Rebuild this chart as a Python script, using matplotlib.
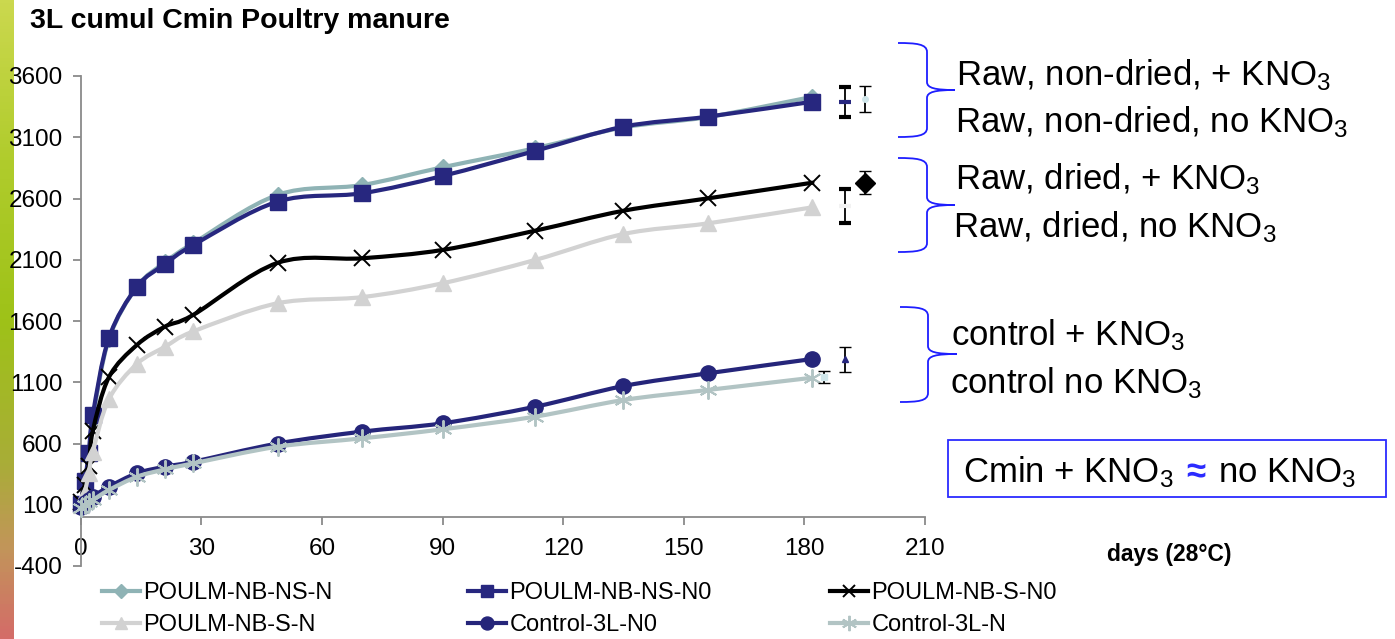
import numpy as np
import matplotlib
matplotlib.use("Agg")
import matplotlib.pyplot as plt
from matplotlib.path import Path
from matplotlib.patches import PathPatch, Rectangle
from matplotlib.lines import Line2D
from matplotlib.colors import LinearSegmentedColormap
from matplotlib import font_manager

plt.rcParams['font.family'] = ['Liberation Sans', 'DejaVu Sans']
plt.rcParams['mathtext.fontset'] = 'custom'
plt.rcParams['mathtext.rm'] = 'Liberation Sans'
plt.rcParams['mathtext.it'] = 'Liberation Sans:italic'
plt.rcParams['mathtext.bf'] = 'Liberation Sans:bold'
plt.rcParams['axes.unicode_minus'] = False

# ---- data ----
days = [0, 1, 2, 3, 7, 14, 21, 28, 49, 70, 90, 113, 135, 156, 182]

poulm_ns_n = [100, 280, 500, 800, 1450, 1880, 2080, 2235, 2630, 2710, 2855, 3010, 3180, 3265, 3430]
poulm_ns_n0 = [110, 290, 520, 830, 1460, 1880, 2065, 2220, 2575, 2643, 2784, 2988, 3186, 3268, 3390]
poulm_s_n0 = [120, 260, 420, 700, 1140, 1405, 1555, 1650, 2075, 2112, 2180, 2337, 2500, 2601, 2729]
poulm_s_n = [100, 200, 357, 530, 960, 1250, 1390, 1515, 1745, 1795, 1908, 2098, 2310, 2397, 2528]
control_n0 = [80, 115, 140, 166, 247, 357, 411, 451, 600, 697, 765, 900, 1069, 1173, 1290]
control_n = [71, 100, 120, 139, 220, 329, 389, 438, 574, 642, 716, 819, 955, 1037, 1137]

series_names = ['POULM-NB-NS-N', 'POULM-NB-NS-N0', 'POULM-NB-S-N0',
                'POULM-NB-S-N', 'Control-3L-N0', 'Control-3L-N']

# mean +/- error at day 182 (drawn a bit to the right of the curves)
err_days = [190, 195, 195, 190, 190, 185]
err_mean = [3390, 3412, 2729, 2539, 1287, 1145]
err_half = [122, 108, 95, 136, 103, 50]

y_ticks = [-400, 100, 600, 1100, 1600, 2100, 2600, 3100, 3600]
x_ticks = [0, 30, 60, 90, 120, 150, 180, 210]

# ---- styles ----
W, H = 1395, 639
navy = '#27277f'
styles = [
    dict(color='#8fb3b5', marker='D', ms=8, mew=1),
    dict(color=navy, marker='s', ms=11, mew=1),
    dict(color='black', marker='x', ms=11, mew=1.4),
    dict(color='#d2d2d2', marker='^', ms=11, mew=1),
    dict(color='#25257a', marker='o', ms=11, mew=1),
    dict(color='#b2c4c4', marker=(6, 2, 0), ms=13, mew=1.4),
]


def smooth_path(x, y):
    # Excel-like smoothed line: cubic Bezier through the points (Catmull-Rom handles)
    pts = np.column_stack([x, y]).astype(float)
    verts = [pts[0]]
    codes = [Path.MOVETO]
    n = len(pts)
    for i in range(n - 1):
        p0 = pts[i - 1] if i > 0 else pts[i]
        p1 = pts[i]
        p2 = pts[i + 1]
        p3 = pts[i + 2] if i + 2 < n else pts[i + 1]
        c1 = p1 + (p2 - p0) / 6.0
        c2 = p2 - (p3 - p1) / 6.0
        verts += [c1, c2, p2]
        codes += [Path.CURVE4] * 3
    return Path(verts, codes)


fig = plt.figure(figsize=(W / 100, H / 100), dpi=100)

# coloured strip on the left edge
strip = fig.add_axes([0, 0, 13 / W, 1])
cmap = LinearSegmentedColormap.from_list('strip', [
    (0.0, '#cbd84e'), (0.25, '#b0cc2c'), (0.5, '#9ec218'),
    (0.72, '#a8ae36'), (0.86, '#c2955a'), (1.0, '#d46c68')])
strip.imshow(np.linspace(0, 1, 200).reshape(-1, 1), aspect='auto', cmap=cmap)
strip.axis('off')

ax = fig.add_axes([80.7 / W, (H - 566) / H, (925 - 80.7) / W, 490 / H])
all_series = [poulm_ns_n, poulm_ns_n0, poulm_s_n0, poulm_s_n, control_n0, control_n]
handles = []
for i, (vals, name, st) in enumerate(zip(all_series, series_names, styles)):
    patch = PathPatch(smooth_path(days, vals), fill=False, edgecolor=st['color'],
                      lw=3.0, zorder=2 + 2 * i, capstyle='round', joinstyle='round')
    patch.set_clip_on(False)
    ax.add_patch(patch)
    ax.plot(days, vals, ls='none', marker=st['marker'], ms=st['ms'], mew=st['mew'],
            color=st['color'], mec=st['color'], zorder=3 + 2 * i, clip_on=False)
    handles.append(Line2D([], [], color=st['color'], lw=3.0, marker=st['marker'],
                          ms=st['ms'] * 0.85, mew=st['mew'], mec=st['color']))

err_fmt = [
    dict(marker='_', color=navy, ms=8, mew=3),
    dict(marker='o', color='#cfe6ea', ms=4, mew=1),
    dict(marker='D', color='black', ms=10, mew=1),
    dict(marker='_', color='#f2f2f2', ms=8, mew=3),
    dict(marker='^', color=navy, ms=4, mew=1),
    dict(marker='s', color='#cfe6ea', ms=4, mew=1),
]
for d, m, e, f in zip(err_days, err_mean, err_half, err_fmt):
    ax.errorbar([d], [m], yerr=[e], fmt=f['marker'], color=f['color'], ms=f['ms'],
                mew=f['mew'], ecolor='black', elinewidth=1.3, capsize=4, capthick=1.3,
                zorder=20, clip_on=False)

ax.set_xlim(0, 210)
ax.set_ylim(-400, 3600)
ax.set_xticks(x_ticks)
ax.set_yticks(y_ticks)
for s in ['top', 'right']:
    ax.spines[s].set_visible(False)
ax.spines['bottom'].set_position(('data', 0))
for s in ['left', 'bottom']:
    ax.spines[s].set_color('#8a8a8a')
    ax.spines[s].set_linewidth(1.3)
ax.tick_params(axis='y', direction='out', length=6, width=1.3, color='#8a8a8a',
               labelsize=17.5, pad=7)
ax.tick_params(axis='x', direction='out', length=6, width=1.3, color='#8a8a8a',
               labelsize=17.5, pad=9)
ax.patch.set_alpha(0)

# ---- annotations, in pixel coordinates ----
ov = fig.add_axes([0, 0, 1, 1], zorder=30)
ov.set_xlim(0, W)
ov.set_ylim(H, 0)
ov.axis('off')

ov.text(30, 21, '3L cumul Cmin Poultry manure', fontsize=20.5, fontweight='bold',
        va='center', ha='left')
ov.text(1107, 555, 'days (28°C)', fontsize=16.5, fontweight='bold', va='center', ha='left')


def brace(x0, xs, xt, top, bot, mid):
    v = [(x0, top), (x0 + 18, top), (xs, top + 1), (xs, top + 9),
         (xs, mid - 8),
         (xs, mid - 2), (xs + 8, mid), (xt, mid),
         (xs + 8, mid), (xs, mid + 2), (xs, mid + 8),
         (xs, bot - 9),
         (xs, bot - 1), (x0 + 18, bot), (x0, bot)]
    c = [Path.MOVETO, Path.CURVE4, Path.CURVE4, Path.CURVE4, Path.LINETO,
         Path.CURVE4, Path.CURVE4, Path.CURVE4,
         Path.CURVE4, Path.CURVE4, Path.CURVE4, Path.LINETO,
         Path.CURVE4, Path.CURVE4, Path.CURVE4]
    ov.add_patch(PathPatch(Path(v, c), fill=False, edgecolor='#1e1eff', lw=1.3))


brace(898, 927, 955, 43, 137, 90)
brace(898, 927, 955, 158, 252, 205)
brace(900, 928, 957, 307, 402, 354)

kno3 = r'KNO$_{3}$'
labels_right = [
    (956, 85, 'Raw, non-dried, + ' + kno3),
    (955, 132, 'Raw, non-dried, no ' + kno3),
    (955, 189, 'Raw, dried, + ' + kno3),
    (953, 237, 'Raw, dried, no ' + kno3),
    (951, 345, 'control + ' + kno3),
    (950, 393, 'control no ' + kno3),
]
for x, y, t in labels_right:
    ov.text(x, y, t, fontsize=25, va='baseline', ha='left')

ov.add_patch(Rectangle((948, 440), 1386 - 948, 57, fill=False, edgecolor='#2b2bff', lw=1.3))
ov.text(963, 482, 'Cmin + ' + kno3, fontsize=25, va='baseline', ha='left')
ov.text(1186, 482, '≈', fontsize=25, fontweight='bold', color='#2b2bff', va='baseline', ha='left')
ov.text(1218, 482, 'no ' + kno3, fontsize=25, va='baseline', ha='left')

# ---- legend: three columns of two rows ----
names = {f.name for f in font_manager.fontManager.ttflist}
if 'Liberation Sans Narrow' in names:
    leg_font = dict(family='Liberation Sans Narrow', size=20)
    lspace = 0.15
else:
    leg_font = dict(family='Liberation Sans', size=17)
    lspace = 0.42
cols = [(102, [0, 3]), (468, [1, 4]), (830, [2, 5])]
for x, idx in cols:
    lg = fig.legend([handles[k] for k in idx], [series_names[k] for k in idx],
                    loc='center left', bbox_to_anchor=(x / W, 1 - 609 / H),
                    frameon=False, borderpad=0, borderaxespad=0, handlelength=1.6,
                    handletextpad=0.15, labelspacing=lspace, prop=leg_font)

fig.savefig('out.png', dpi=100)
